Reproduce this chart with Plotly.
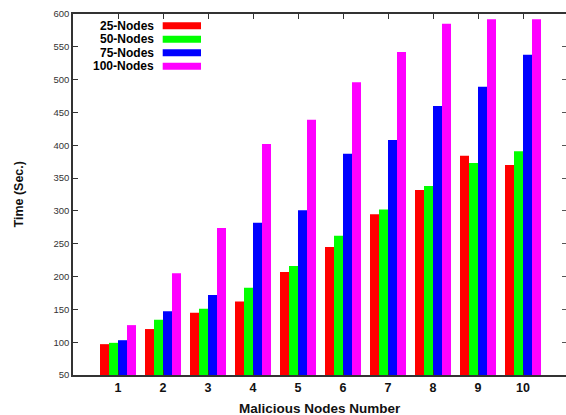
import plotly.graph_objects as go

categories = [1, 2, 3, 4, 5, 6, 7, 8, 9, 10]
tick_labels = ["1", "2", "3", "4", "5", "6", "7", "8", "9", "10"]
nodes25 = [97, 120, 145, 162, 207, 245, 295, 332, 384, 370]
nodes50 = [99, 134, 151, 183, 216, 262, 302, 338, 373, 391]
nodes75 = [103, 147, 172, 282, 301, 387, 408, 460, 489, 538]
nodes100 = [126, 205, 274, 402, 439, 496, 542, 585, 592, 592]
series_names = ["25-Nodes", "50-Nodes", "75-Nodes", "100-Nodes"]
series_values = [nodes25, nodes50, nodes75, nodes100]
colors = ["#ff0000", "#00ff00", "#0000ff", "#ff00ff"]

W, H = 566, 415
ML, MT, MB, MR = 73, 14, 40, 0
PW = W - ML - MR
PH = H - MT - MB

fig = go.Figure()
for name, vals, c in zip(series_names, series_values, colors):
    fig.add_trace(go.Bar(x=categories, y=vals, name=name, marker=dict(color=c, line=dict(width=0)),
                         showlegend=False))

# invisible trace for right-side ticks
fig.add_trace(go.Scatter(x=[0], y=[50], yaxis="y2", mode="markers", marker=dict(opacity=0),
                         showlegend=False, hoverinfo="skip"))

font_main = "Liberation Sans, Arial, sans-serif"

# manual legend (text left of swatch, like gnuplot)
row_px = [25.7, 39.2, 52.7, 66.2]
text_right_px = 154.5
sw_x0_px, sw_x1_px = 162.7, 201
for name, c, py in zip(series_names, colors, row_px):
    yp = (H - MB - py) / PH
    fig.add_annotation(xref="paper", yref="paper", x=(text_right_px - ML) / PW, y=yp,
                       text="<b>%s</b>" % name, showarrow=False, xanchor="right", yanchor="middle",
                       font=dict(family=font_main, size=12, color="#000"), borderpad=0)
    fig.add_shape(type="rect", xref="paper", yref="paper",
                  x0=(sw_x0_px - ML) / PW, x1=(sw_x1_px - ML) / PW,
                  y0=yp - 3.5 / PH, y1=yp + 3.5 / PH,
                  fillcolor=c, line=dict(width=0))

# axis titles as annotations for exact placement
fig.add_annotation(xref="paper", yref="paper", x=(320 - ML) / PW, y=(H - MB - 408.5) / PH,
                   text="<b>Malicious Nodes Number</b>", showarrow=False,
                   xanchor="center", yanchor="middle",
                   font=dict(family=font_main, size=13.5, color="#111"))
fig.add_annotation(xref="paper", yref="paper", x=(18.5 - ML) / PW, y=(H - MB - 195) / PH,
                   text="<b>Time (Sec.)</b>", showarrow=False, textangle=-90,
                   xanchor="center", yanchor="middle",
                   font=dict(family=font_main, size=12.5, color="#111"))

fig.update_layout(
    width=W, height=H,
    margin=dict(l=ML, r=MR, t=MT, b=MB, autoexpand=False),
    paper_bgcolor="white", plot_bgcolor="white",
    barmode="group", bargap=0.2, bargroupgap=0,
    xaxis=dict(range=[0, PW / 45.0], tickmode="array", tickvals=categories, ticktext=tick_labels,
               ticks="inside", ticklen=5, tickwidth=1.2, tickcolor="#333",
               showline=True, linecolor="#333", linewidth=1.5, mirror="ticks",
               showgrid=False, zeroline=False, automargin=False,
               tickfont=dict(family=font_main, size=12.5, color="#111", weight="bold")),
    yaxis=dict(range=[50, 600], dtick=50, tick0=50,
               ticks="inside", ticklen=5, tickwidth=1.2, tickcolor="#333",
               showline=True, linecolor="#333", linewidth=1.5,
               showgrid=False, zeroline=False, automargin=False,
               tickfont=dict(family=font_main, size=9.5, color="#333")),
    yaxis2=dict(range=[50, 600], dtick=50, tick0=50, overlaying="y", side="right",
                ticks="inside", ticklen=4, tickwidth=1.2, tickcolor="#555", automargin=False,
                showticklabels=False, showline=False, showgrid=False, zeroline=False),
)

fig.write_html("out.html", config={"displayModeBar": False},
               post_script="document.body.style.margin='0';document.body.style.padding='0';")
